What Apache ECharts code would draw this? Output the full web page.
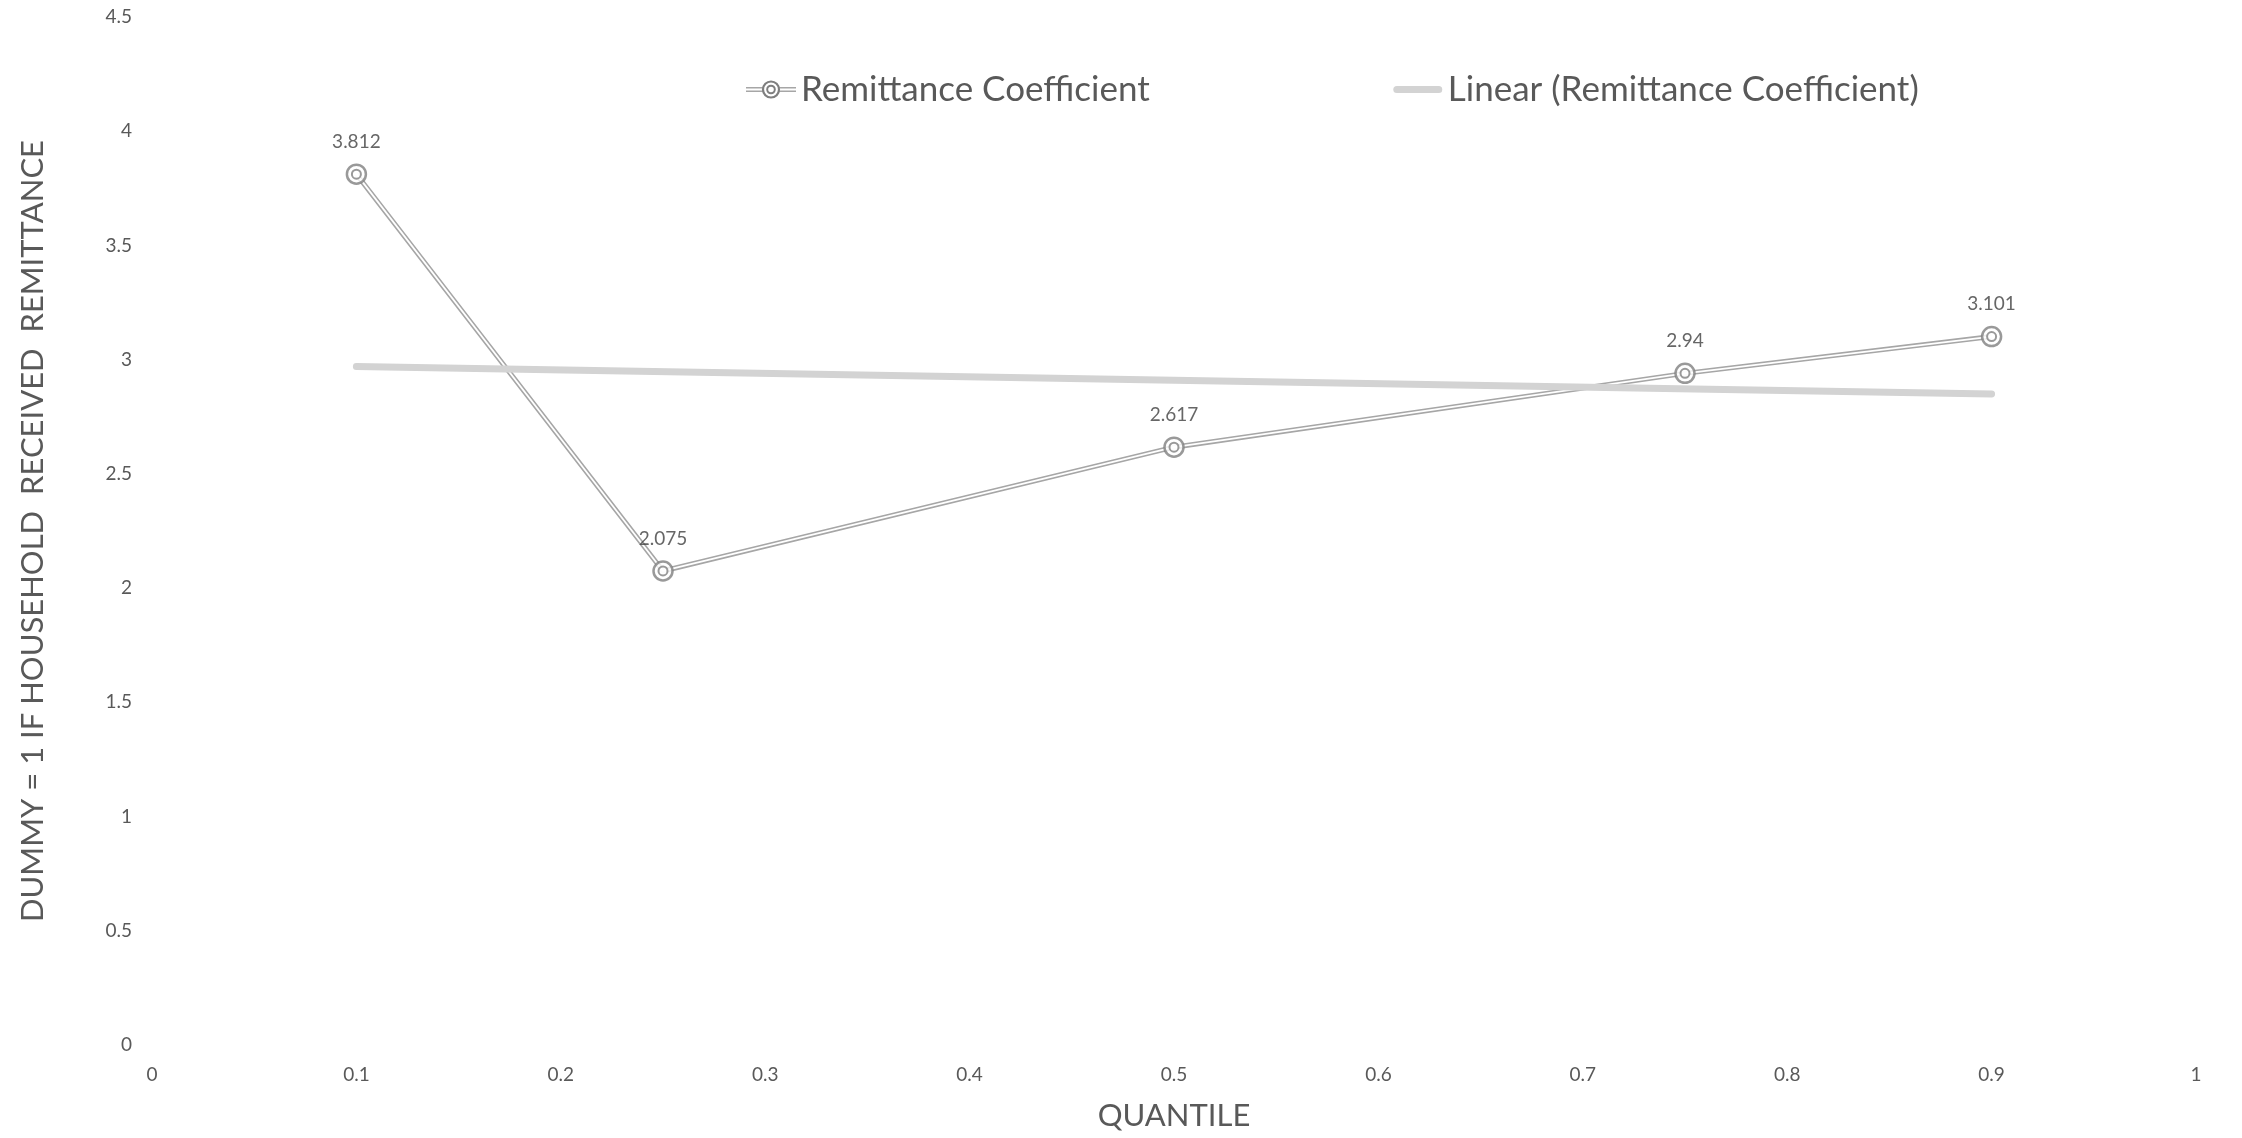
<!DOCTYPE html>
<html>
<head>
<meta charset="utf-8">
<title>Remittance Coefficient by Quantile</title>
<script src="https://cdn.jsdelivr.net/npm/echarts@6/dist/echarts.min.js"></script>
<style>
	html, body { margin: 0; padding: 0; background: #fff; }
	#chart { width: 2242px; height: 1138px; }
</style>
</head>
<body>
<div id="chart"></div>
<script>
	// data
	const quantiles = [0.1, 0.25, 0.5, 0.75, 0.9];
	const coefficients = [3.812, 2.075, 2.617, 2.94, 3.101];
	// Excel linear trendline, ends read at 0.1 and 0.9
	const trendX = [0.1, 0.9];
	const trendY = [2.97, 2.85];

	const FONT = "Lato, 'Noto Sans', sans-serif";
	const TEXT = "#595959";

	const pairs = (xs, ys) => xs.map((x, i) => [x, ys[i]]);

	// legend icons: double line with ringed marker, and the thick trend line
	const svgIcon = (s) => "image://data:image/svg+xml;utf8," + encodeURIComponent(s);
	const ringIcon = svgIcon(
		'<svg xmlns="http://www.w3.org/2000/svg" width="50" height="20" viewBox="0 0 50 20">' +
		'<line x1="0" y1="8.3" x2="50" y2="8.3" stroke="#a6a6a6" stroke-width="1.6"/>' +
		'<line x1="0" y1="11.7" x2="50" y2="11.7" stroke="#a6a6a6" stroke-width="1.6"/>' +
		'<circle cx="25" cy="10" r="8" fill="#fff" stroke="#7f7f7f" stroke-width="2.2"/>' +
		'<circle cx="25" cy="10" r="3.8" fill="#fff" stroke="#7f7f7f" stroke-width="2"/>' +
		'</svg>'
	);
	const trendIcon = svgIcon(
		'<svg xmlns="http://www.w3.org/2000/svg" width="50" height="20" viewBox="0 0 50 20">' +
		'<line x1="4" y1="10" x2="46" y2="10" stroke="#d3d3d3" stroke-width="7" stroke-linecap="round"/>' +
		'</svg>'
	);

	function drawLine(dom, option) {
		let myChart = echarts.init(document.getElementById(dom));
		myChart.setOption(option);
	}

	let option = {
		animation: false,
		backgroundColor: "#fff",
		textStyle: { fontFamily: FONT },
		grid: {
			left: 152,
			right: 46,
			top: 17,
			bottom: 93,
		},
		legend: {
			left: 741,
			top: 67,
			itemGap: 243,
			itemWidth: 50,
			itemHeight: 20,
			textStyle: { fontFamily: FONT, fontSize: 35, color: TEXT },
			data: [
				{ name: "Remittance Coefficient", icon: ringIcon },
				{ name: "Linear (Remittance Coefficient)", icon: trendIcon },
			],
		},
		xAxis: {
			type: "value",
			min: 0,
			max: 1,
			interval: 0.1,
			name: "QUANTILE",
			nameLocation: "middle",
			nameGap: 55,
			nameTextStyle: { fontFamily: FONT, fontSize: 31, color: TEXT },
			axisLine: { show: false },
			axisTick: { show: false },
			splitLine: { show: false },
			axisLabel: { margin: 20, fontFamily: FONT, fontSize: 19, color: TEXT },
		},
		yAxis: {
			type: "value",
			min: 0,
			max: 4.5,
			interval: 0.5,
			name: "DUMMY = 1 IF HOUSEHOLD  RECEIVED  REMITTANCE",
			nameLocation: "middle",
			nameGap: 104,
			nameTextStyle: { fontFamily: FONT, fontSize: 31, color: TEXT },
			axisLine: { show: false },
			axisTick: { show: false },
			splitLine: { show: false },
			axisLabel: { margin: 20, fontFamily: FONT, fontSize: 19, color: TEXT },
		},
		series: [
			{
				// outer strokes of the double line
				name: "Remittance Coefficient",
				type: "line",
				data: pairs(quantiles, coefficients),
				showSymbol: false,
				symbol: "none",
				lineStyle: { color: "#a6a6a6", width: 5 },
				itemStyle: { color: "#a6a6a6" },
				silent: true,
				z: 2,
			},
			{
				// white core that splits the line in two
				name: "core",
				type: "line",
				data: pairs(quantiles, coefficients),
				symbol: "none",
				lineStyle: { color: "#fff", width: 1.8 },
				silent: true,
				z: 3,
			},
			{
				name: "Linear (Remittance Coefficient)",
				type: "line",
				data: pairs(trendX, trendY),
				symbol: "none",
				lineStyle: { color: "#d3d3d3", width: 7, cap: "round" },
				itemStyle: { color: "#d3d3d3" },
				silent: true,
				z: 4,
			},
			{
				// outer ring of marker + value labels
				name: "ring",
				type: "scatter",
				data: pairs(quantiles, coefficients),
				symbol: "circle",
				symbolSize: 19,
				itemStyle: { color: "#fff", borderColor: "#7f7f7f", borderWidth: 2.5 },
				label: {
					show: true,
					position: "top",
					distance: 12,
					fontFamily: FONT,
					fontSize: 19,
					color: "#404040",
					formatter: (p) => String(p.value[1]),
				},
				silent: true,
				z: 5,
			},
			{
				name: "dot",
				type: "scatter",
				data: pairs(quantiles, coefficients),
				symbol: "circle",
				symbolSize: 9,
				itemStyle: { color: "#fff", borderColor: "#7f7f7f", borderWidth: 2 },
				silent: true,
				z: 6,
			},
		],
	};

	drawLine("chart", option);
</script>
</body>
</html>
